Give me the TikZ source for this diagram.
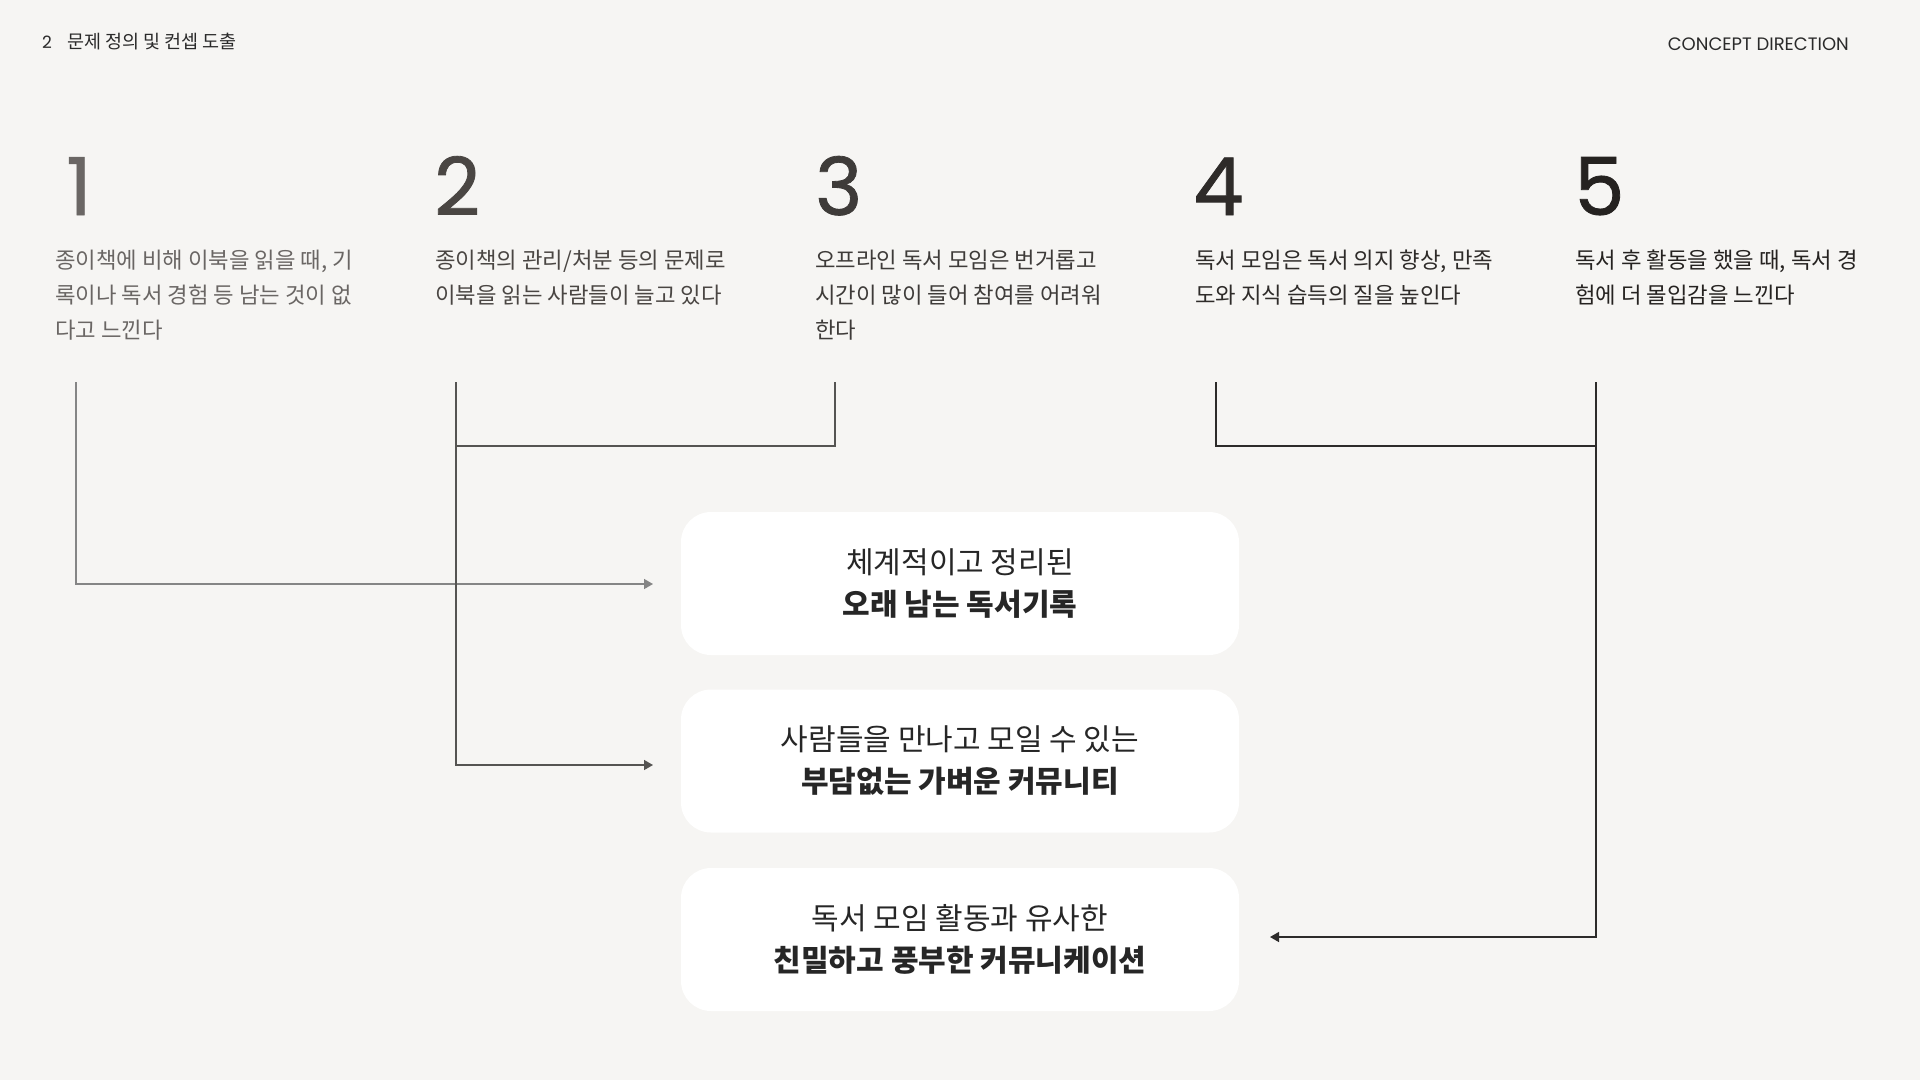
\documentclass[tikz,border=0pt]{standalone}
\usepackage{fontspec}
\setmainfont{Noto Sans CJK KR}
\newfontfamily\numfont[FakeBold=1]{Poppins}
\newfontfamily\latfont{Poppins}
\usetikzlibrary{arrows.meta}
\definecolor{bg}{HTML}{F6F5F3}
\definecolor{ca}{HTML}{6A6664}
\definecolor{cb}{HTML}{4A4643}
\definecolor{cc}{HTML}{3E3B39}
\definecolor{cd}{HTML}{2E2B29}
\definecolor{ce}{HTML}{252220}
\definecolor{lna}{HTML}{858585}
\definecolor{lnb}{HTML}{555452}
\definecolor{lnc}{HTML}{2D2B2A}
\definecolor{head}{HTML}{2A2A2A}
\tikzset{
  numtxt/.style={anchor=base west, inner sep=0pt, font=\numfont\fontsize{80}{80}\selectfont},
  coltxt/.style={anchor=north west, inner sep=0pt, align=left, font=\fontsize{22.3}{35}\selectfont},
  box/.style={fill=white, draw=none, rounded corners=30pt, minimum width=558pt, minimum height=143pt, align=center, inner sep=0pt, text=black!85, font=\fontsize{30}{42}\selectfont},
  conn/.style={line width=1.5pt},
  tip/.style={-{Triangle[length=9pt,width=10pt]}}
}
\begin{document}
\begin{tikzpicture}[x=1pt,y=-1pt]
\fill[bg] (0,0) rectangle (1920,1080);
\useasboundingbox (0,0) rectangle (1920,1080);
% header
\node[anchor=west, inner sep=0pt, text=head, font=\latfont\fontsize{17}{20}\selectfont] (hn) at (42,42) {2};
\node[anchor=west, inner sep=0pt, text=head, font=\fontsize{18.5}{20}\selectfont] (hl) at (67,42) {문제 정의 및 컨셉 도출};
\node[anchor=east, inner sep=0pt, text=head, font=\latfont\fontsize{18}{20}\selectfont] (hr) at (1849,44) {CONCEPT DIRECTION};
% numbers
\node[numtxt, text=ca] (n1) at (66,215) {1};
\node[numtxt, text=cb] (n2) at (434,215) {2};
\node[numtxt, text=cc] (n3) at (815,215) {3};
\node[numtxt, text=cd] (n4) at (1193,215) {4};
\node[numtxt, text=ce] (n5) at (1574,215) {5};
% column texts
\node[coltxt, text=ca] (t1) at (55,250) {종이책에 비해 이북을 읽을 때, 기\\록이나 독서 경험 등 남는 것이 없\\다고 느낀다};
\node[coltxt, text=cb] (t2) at (435,250) {종이책의 관리/처분 등의 문제로\\이북을 읽는 사람들이 늘고 있다};
\node[coltxt, text=cc] (t3) at (815,250) {오프라인 독서 모임은 번거롭고\\시간이 많이 들어 참여를 어려워\\한다};
\node[coltxt, text=cd] (t4) at (1195,250) {독서 모임은 독서 의지 향상, 만족\\도와 지식 습득의 질을 높인다};
\node[coltxt, text=ce] (t5) at (1575,250) {독서 후 활동을 했을 때, 독서 경\\험에 더 몰입감을 느낀다};
% boxes
\node[box] (b1) at (960,583.5) {체계적이고 정리된\\\textbf{오래 남는 독서기록}};
\node[box] (b2) at (960,761) {사람들을 만나고 모일 수 있는\\\textbf{부담없는 가벼운 커뮤니티}};
\node[box] (b3) at (960,939.5) {독서 모임 활동과 유사한\\\textbf{친밀하고 풍부한 커뮤니케이션}};
% connector coordinates
\coordinate (s1) at (76,382);
\coordinate (s2) at (456,382);
\coordinate (s3) at (835,382);
\coordinate (s4) at (1216,382);
\coordinate (s5) at (1596,382);
\coordinate (j23) at (456,446);
\coordinate (j45) at (1596,446);
\coordinate (e1) at (653,584);
\coordinate (e2) at (653,765);
\coordinate (e3) at (1270,937);
% connectors
\draw[conn, lna, tip] (s1) |- (e1);
\draw[conn, lnb, tip] (s2) |- (e2);
\draw[conn, lnb] (s3) |- (j23);
\draw[conn, lnc] (s4) |- (j45);
\draw[conn, lnc, tip] (s5) |- (e3);
\end{tikzpicture}
\end{document}
